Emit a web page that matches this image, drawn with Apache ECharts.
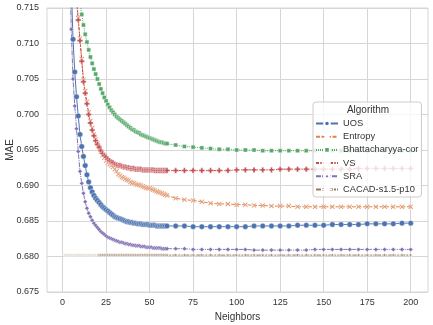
<!DOCTYPE html>
<html>
<head>
<meta charset="utf-8">
<script src="https://cdn.jsdelivr.net/npm/echarts@6/dist/echarts.min.js"></script>
<style>
  html, body {margin: 0; padding: 0; background: #fff;}
  #chart {width: 433px; height: 325px;}
</style>
</head>
<body>
<div id="chart"></div>
<script>
// neighbours: 1..60 step 1, then 65..200 step 5
const neighbors = [
  1, 2, 3, 4, 5, 6, 7, 8, 9, 10, 11, 12, 13, 14, 15, 16, 17, 18, 19, 20,
  21, 22, 23, 24, 25, 26, 27, 28, 29, 30, 31, 32, 33, 34, 35, 36, 37, 38, 39, 40,
  41, 42, 43, 44, 45, 46, 47, 48, 49, 50, 51, 52, 53, 54, 55, 56, 57, 58, 59, 60,
  65, 70, 75, 80, 85, 90, 95, 100, 105, 110, 115, 120, 125, 130, 135, 140,
  145, 150, 155, 160, 165, 170, 175, 180, 185, 190, 195, 200
]

const uos = [
  0.790, 0.760, 0.740, 0.727, 0.718, 0.7106, 0.7060, 0.7025, 0.6998, 0.6972,
  0.6955, 0.6941, 0.6928, 0.6915, 0.6905, 0.6897, 0.6891, 0.6886, 0.6882, 0.6879,
  0.6876, 0.6873, 0.6870, 0.6868, 0.6866, 0.6864, 0.6862, 0.6860, 0.6858, 0.6856,
  0.6855, 0.6854, 0.6853, 0.6852, 0.6851, 0.6850, 0.6849, 0.6849, 0.6848, 0.6848,
  0.6847, 0.6847, 0.6846, 0.6846, 0.6846, 0.6845, 0.6845, 0.6845, 0.6845, 0.6844,
  0.6844, 0.6844, 0.6844, 0.6843, 0.6843, 0.6843, 0.6843, 0.6843, 0.6843, 0.6843,
  0.6843, 0.6843, 0.6842, 0.6842, 0.6842, 0.6842, 0.6842, 0.6842, 0.6842, 0.6843,
  0.6843, 0.6843, 0.6843, 0.6843, 0.6844, 0.6844, 0.6844, 0.6844, 0.6845, 0.6845,
  0.6845, 0.6845, 0.6846, 0.6846, 0.6846, 0.6846, 0.6847, 0.6847
]

const entropy = [
  0.803, 0.783, 0.763, 0.748, 0.737, 0.729, 0.723, 0.7163, 0.7136, 0.7107,
  0.7078, 0.7049, 0.7033, 0.7018, 0.7003, 0.6991, 0.6981, 0.6972, 0.6965, 0.6959,
  0.6954, 0.6948, 0.6943, 0.6939, 0.6935, 0.6932, 0.6930, 0.6928, 0.6926, 0.6923,
  0.6920, 0.6916, 0.6914, 0.6912, 0.6911, 0.6909, 0.6908, 0.6907, 0.6905, 0.6904,
  0.6903, 0.6902, 0.6901, 0.6901, 0.6900, 0.6899, 0.6898, 0.6897, 0.6896, 0.6896,
  0.6895, 0.6894, 0.6893, 0.6892, 0.6891, 0.6890, 0.6889, 0.6888, 0.6887, 0.6886,
  0.6882, 0.6880, 0.6879, 0.6877, 0.6875, 0.6874, 0.6874, 0.6873, 0.6873, 0.6872,
  0.6872, 0.6871, 0.6871, 0.6871, 0.6870, 0.6870, 0.6870, 0.6870, 0.6870, 0.6870,
  0.6870, 0.6870, 0.6870, 0.6870, 0.6870, 0.6870, 0.6870, 0.6870
]

const bhattacharyya = [
  0.800, 0.775, 0.758, 0.745, 0.736, 0.729, 0.7245, 0.7210, 0.7182, 0.7157,
  0.7141, 0.7126, 0.7113, 0.7102, 0.7091, 0.7081, 0.7072, 0.7064, 0.7057, 0.7050,
  0.7043, 0.7036, 0.7030, 0.7024, 0.7019, 0.7014, 0.7010, 0.7006, 0.7003, 0.7000,
  0.6997, 0.6995, 0.6993, 0.6991, 0.6989, 0.6987, 0.6985, 0.6983, 0.6981, 0.6979,
  0.6978, 0.6976, 0.6975, 0.6974, 0.6972, 0.6971, 0.6970, 0.6969, 0.6968, 0.6967,
  0.6966, 0.6965, 0.6964, 0.6963, 0.6962, 0.6961, 0.6961, 0.6960, 0.6959, 0.6959,
  0.6957, 0.6955, 0.6954, 0.6953, 0.6952, 0.6951, 0.6951, 0.6950, 0.6950, 0.6950,
  0.6949, 0.6949, 0.6949, 0.6949, 0.6949, 0.6949, 0.6949, 0.6949, 0.6949, 0.6949,
  0.6949, 0.6949, 0.6949, 0.6949, 0.6949, 0.6949, 0.6949, 0.6949
]

const vs = [
  0.800, 0.780, 0.760, 0.745, 0.734, 0.726, 0.720, 0.7160, 0.7133, 0.7104,
  0.7075, 0.7046, 0.7030, 0.7015, 0.7000, 0.6988, 0.6978, 0.6970, 0.6963, 0.6958,
  0.6954, 0.6949, 0.6945, 0.6942, 0.6940, 0.6937, 0.6935, 0.6933, 0.6932, 0.6930,
  0.6929, 0.6928, 0.6928, 0.6927, 0.6926, 0.6926, 0.6925, 0.6925, 0.6924, 0.6924,
  0.6924, 0.6923, 0.6923, 0.6923, 0.6923, 0.6922, 0.6922, 0.6922, 0.6922, 0.6922,
  0.6922, 0.6922, 0.6921, 0.6921, 0.6921, 0.6921, 0.6921, 0.6921, 0.6921, 0.6921,
  0.6921, 0.6921, 0.6921, 0.6921, 0.6921, 0.6921, 0.6921, 0.6922, 0.6922, 0.6922,
  0.6922, 0.6922, 0.6923, 0.6923, 0.6923, 0.6923, 0.6923, 0.6923, 0.6923, 0.6923,
  0.6923, 0.6924, 0.6924, 0.6924, 0.6924, 0.6924, 0.6924, 0.6924
]

const sra = [
  0.780, 0.755, 0.735, 0.722, 0.7120, 0.7050, 0.7012, 0.6980, 0.6948, 0.6920,
  0.6903, 0.6889, 0.6877, 0.6868, 0.6861, 0.6856, 0.6851, 0.6847, 0.6844, 0.6841,
  0.6838, 0.6835, 0.6833, 0.6831, 0.6829, 0.6827, 0.6826, 0.6825, 0.6824, 0.6823,
  0.6822, 0.6821, 0.6820, 0.6820, 0.6819, 0.6818, 0.6818, 0.6817, 0.6817, 0.6816,
  0.6816, 0.6815, 0.6815, 0.6815, 0.6814, 0.6814, 0.6814, 0.6813, 0.6813, 0.6813,
  0.6813, 0.6812, 0.6812, 0.6812, 0.6812, 0.6812, 0.6811, 0.6811, 0.6811, 0.6811,
  0.6811, 0.6811, 0.6810, 0.6810, 0.6810, 0.6810, 0.6810, 0.6810, 0.6810, 0.6809,
  0.6809, 0.6809, 0.6809, 0.6809, 0.6809, 0.6809, 0.6810, 0.6810, 0.6810, 0.6810,
  0.6810, 0.6810, 0.6810, 0.6810, 0.6810, 0.6810, 0.6810, 0.6810
]

const cacad = [
  0.6802, 0.6802, 0.6802, 0.6802, 0.6802, 0.6802, 0.6802, 0.6802, 0.6802, 0.6802,
  0.6802, 0.6802, 0.6802, 0.6802, 0.6802, 0.6802, 0.6802, 0.6802, 0.6802, 0.6802,
  0.6802, 0.6802, 0.6802, 0.6802, 0.6802, 0.6802, 0.6802, 0.6802, 0.6802, 0.6802,
  0.6802, 0.6802, 0.6802, 0.6802, 0.6802, 0.6802, 0.6802, 0.6802, 0.6802, 0.6802,
  0.6802, 0.6802, 0.6802, 0.6802, 0.6802, 0.6802, 0.6802, 0.6802, 0.6802, 0.6802,
  0.6802, 0.6802, 0.6802, 0.6802, 0.6802, 0.6802, 0.6802, 0.6802, 0.6802, 0.6802,
  0.6802, 0.6802, 0.6802, 0.6802, 0.6802, 0.6802, 0.6802, 0.6802, 0.6802, 0.6802,
  0.6802, 0.6802, 0.6802, 0.6802, 0.6802, 0.6802, 0.6802, 0.6802, 0.6802, 0.6802,
  0.6802, 0.6802, 0.6802, 0.6802, 0.6802, 0.6802, 0.6802, 0.6802
]

const xTicks = [0, 25, 50, 75, 100, 125, 150, 175, 200]

const FONT = '"Liberation Sans", Arial, sans-serif'
const TEXT = '#333'
const GRID = '#d6d6d6'

const SYM_X = 'path://M0,1.5 L1.5,0 L5,3.5 L8.5,0 L10,1.5 L6.5,5 L10,8.5 L8.5,10 L5,6.5 L1.5,10 L0,8.5 L3.5,5 Z'
const SYM_P = 'path://M3.2,0 H6.8 V3.2 H10 V6.8 H6.8 V10 H3.2 V6.8 H0 V3.2 H3.2 Z'
const SYM_STAR = 'path://M5,0 L6.3,3.7 L10,5 L6.3,6.3 L5,10 L3.7,6.3 L0,5 L3.7,3.7 Z'

const pairs = (ys) => neighbors.map((x, i) => [x, ys[i]])

const makeSeries = (name, ys, color, dash, symbol, size) => ({
  name,
  type: 'line',
  data: pairs(ys),
  symbol,
  symbolSize: size,
  showSymbol: true,
  clip: true,
  animation: false,
  lineStyle: {color, width: 1, type: dash},
  itemStyle: {color, borderColor: '#fff', borderWidth: 0.4},
  emphasis: {disabled: true},
})

const series = [
  makeSeries('UOS', uos, '#4c72b0', 'solid', 'circle', 5.5),
  makeSeries('Entropy', entropy, '#dd8452', [4, 1.5], SYM_X, 5),
  makeSeries('Bhattacharyya-cor', bhattacharyya, '#55a868', [1, 1], 'rect', 4),
  makeSeries('VS', vs, '#c44e52', [3, 1.25, 1.5, 1.25], SYM_P, 5.5),
  makeSeries('SRA', sra, '#8172b3', [5, 1, 1, 1], 'diamond', 4.5),
  makeSeries('CACAD-s1.5-p10', cacad, '#937860', [5, 1, 2, 1, 2, 1], SYM_STAR, 4),
]
// the first stretch of CACAD reads much lighter in the picture
series[5].itemStyle.color = (p) => (p.data[0] <= 20 ? '#d9cec4' : '#937860')

const chart = echarts.init(document.getElementById('chart'), null, {renderer: 'canvas'})
chart.setOption({
  backgroundColor: '#fff',
  animation: false,
  grid: {
    left: 47, right: 5, top: 8, bottom: 33,
    outerBoundsMode: 'none', containLabel: false,
    show: true, borderColor: GRID, borderWidth: 1,
  },
  xAxis: {
    type: 'value',
    min: -8.95,
    max: 209.95,
    name: 'Neighbors',
    nameLocation: 'middle',
    nameGap: 20,
    nameMoveOverlap: false,
    nameTextStyle: {fontFamily: FONT, fontSize: 10, color: TEXT},
    axisLine: {show: false},
    axisTick: {show: false, customValues: xTicks},
    axisLabel: {customValues: xTicks, fontFamily: FONT, fontSize: 9, color: TEXT, margin: 6},
    splitLine: {show: true, lineStyle: {color: GRID, width: 1}},
  },
  yAxis: {
    type: 'value',
    min: 0.675,
    max: 0.715,
    interval: 0.005,
    name: 'MAE',
    nameLocation: 'middle',
    nameGap: 32,
    nameMoveOverlap: false,
    nameTextStyle: {fontFamily: FONT, fontSize: 10, color: TEXT},
    axisLine: {show: false},
    axisTick: {show: false},
    axisLabel: {fontFamily: FONT, fontSize: 9, color: TEXT, margin: 8, formatter: (v) => v.toFixed(3)},
    splitLine: {show: true, lineStyle: {color: GRID, width: 1}},
  },
  legend: {
    orient: 'vertical',
    left: 313,
    top: 102,
    padding: [15, 3, 1, 2],
    itemWidth: 22,
    itemHeight: 7,
    itemGap: 0.2,
    backgroundColor: 'rgba(255,255,255,0.8)',
    borderColor: '#cccccc',
    borderWidth: 1,
    borderRadius: 3,
    textStyle: {fontFamily: FONT, fontSize: 9.3, color: TEXT, lineHeight: 13},
    data: series.map((s) => s.name),
  },
  graphic: [{
    type: 'text',
    z: 100,
    style: {
      x: 368, y: 110, text: 'Algorithm', fill: TEXT,
      font: '10px ' + FONT, textAlign: 'center', textVerticalAlign: 'middle',
    },
  }],
  series,
})
</script>
</body>
</html>
